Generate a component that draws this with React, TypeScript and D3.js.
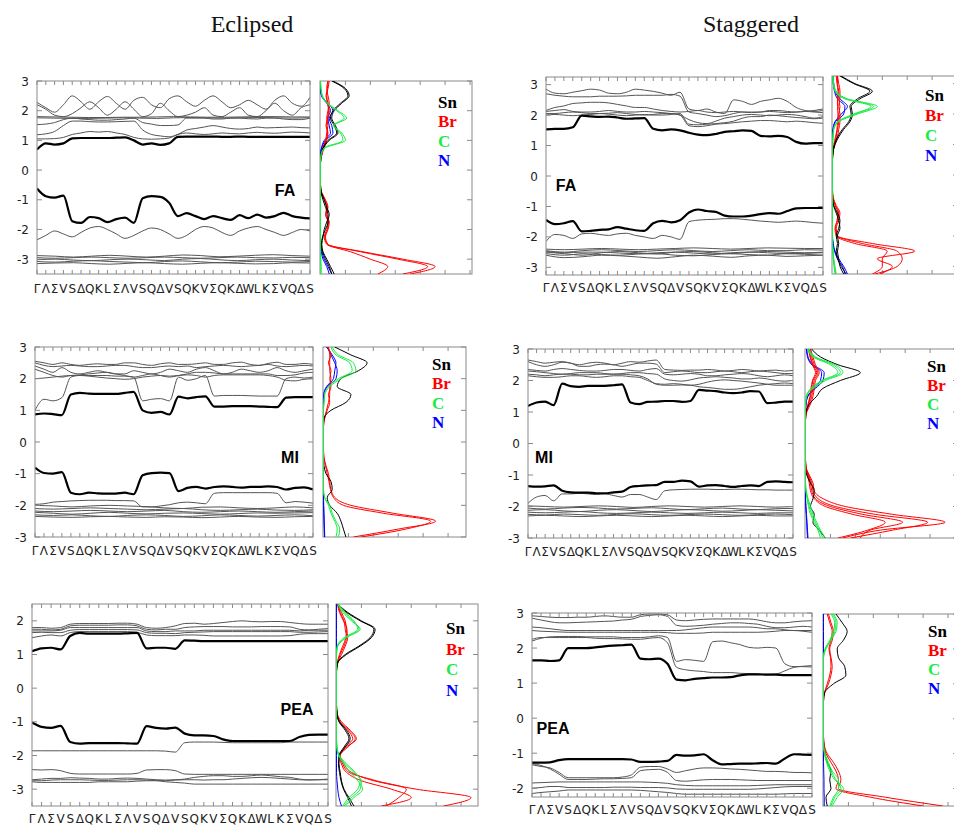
import React from "react";
import * as d3 from "d3";

// ---------------- k-path labels ----------------
const kLabels = ["Γ","Λ","Σ","V","S","Δ","Q","K","L","Σ","Λ","V","S","Q","Δ","V","S","Q","K","V","Σ","Q","K","Δ","W","L","K","Σ","V","Q","Δ","S"];
const titles = ["Eclipsed", "Staggered"];
const legendItems = ["Sn", "Br", "C", "N"];
const elementColors: Record<string, string> = { Sn: "#000000", Br: "#ff0000", C: "#19ec45", N: "#0000ff" };

// ---------------- Eclipsed FA ----------------
const eclFaThick: number[][] = [
  [0.69,0.9,0.86,0.9,1.07,1.08,1.08,1.08,1.08,1.09,1.1,1.0,0.86,0.9,0.85,0.9,1.12,1.13,1.13,1.13,1.13,1.12,1.12,1.13,1.12,1.12,1.12,1.12,1.12,1.12,1.12,1.12],
  [-0.62,-0.88,-0.93,-0.86,-1.72,-1.78,-1.58,-1.62,-1.75,-1.65,-1.6,-1.78,-0.95,-0.88,-0.9,-1.1,-1.55,-1.45,-1.55,-1.65,-1.55,-1.62,-1.68,-1.52,-1.62,-1.5,-1.6,-1.55,-1.44,-1.55,-1.6,-1.63],
];
const eclFaThin: number[][] = [
  [2.28,2.1,1.95,2.2,2.5,2.3,2.05,2.3,2.48,2.25,2.05,2.35,2.45,2.2,2.1,2.4,2.5,2.3,2.15,2.35,2.5,2.3,2.1,2.2,2.35,2.2,2.05,2.35,2.5,2.25,2.15,2.45],
  [2.2,2.05,1.85,1.8,1.9,2.1,2.3,2.1,1.85,2.05,2.3,2.05,1.8,1.9,2.25,2.0,1.8,1.85,1.95,2.1,1.85,1.8,1.95,2.1,1.85,1.8,2.0,2.25,2.0,1.85,2.1,2.2],
  [1.8,1.79,1.78,1.77,1.77,1.78,1.78,1.79,1.8,1.79,1.78,1.78,1.79,1.8,1.8,1.79,1.79],
  [1.76,1.75,1.74,1.74,1.75,1.76,1.75,1.74,1.76,1.77,1.76,1.75,1.76,1.77,1.76,1.75,1.76],
  [1.53,1.55,1.6,1.7,1.75,1.72,1.7,1.68,1.68,1.7,1.72,1.75,1.6,1.55,1.5,1.5,1.52,1.75,1.75,1.75,1.72,1.72,1.75,1.75,1.73,1.72,1.75,1.75,1.72,1.7,1.7,1.75],
  [1.19,1.22,1.3,1.5,1.65,1.65,1.63,1.62,1.62,1.63,1.64,1.65,1.35,1.2,1.15,1.12,1.2,1.35,1.4,1.45,1.5,1.45,1.4,1.38,1.4,1.45,1.42,1.43,1.44,1.45,1.43,1.42],
  [1.05,1.05,1.06,1.1,1.2,1.25,1.3,1.28,1.3,1.25,1.2,1.1,1.05,1.04,1.05,1.08,1.2,1.25,1.22,1.2,1.22,1.25,1.23,1.22,1.25,1.27,1.25,1.24,1.26,1.28,1.27,1.25],
  [-2.35,-2.2,-2.05,-2.15,-2.25,-2.1,-1.95,-1.9,-2.0,-2.15,-2.3,-2.2,-2.05,-1.95,-2.0,-2.15,-2.3,-2.2,-2.0,-1.9,-1.95,-2.1,-2.2,-2.05,-1.95,-1.9,-2.0,-2.1,-2.2,-2.1,-2.0,-2.05],
  [-2.88,-2.9,-2.93,-2.9,-2.87,-2.9,-2.93,-2.9,-2.86,-2.88,-2.92,-2.9,-2.87,-2.85,-2.88,-2.9],
  [-2.95,-2.97,-2.95,-2.93,-2.95,-2.97,-2.95,-2.93,-2.95,-2.97,-2.95,-2.93,-2.95,-2.96,-2.94,-2.95],
  [-3.02,-3.0,-3.03,-3.05,-3.02,-3.0,-3.02,-3.05,-3.0,-2.98,-3.02,-3.05,-3.02,-3.0,-3.03,-3.05],
  [-3.08,-3.1,-3.07,-3.05,-3.08,-3.1,-3.12,-3.08,-3.06,-3.09,-3.12,-3.1,-3.07,-3.08,-3.1,-3.08],
  [-3.15,-3.13,-3.12,-3.15,-3.17,-3.14,-3.12,-3.15,-3.17,-3.14,-3.12,-3.14,-3.16,-3.15,-3.12,-3.13],
];
const eclFaDosGrid = [-3.5, 0.25];
const eclFaDosSn: number[][] = [
  [0.55,0.4,0.25,0.1,0.05,0.1,0.15,0.25,0.35,0.25,0.15,0.03,0,0,0,0,0.02,0.12,0.35,0.7,0.6,0.45,0.55,0.85,1.15,1.0,0.5],
  [0.45,0.35,0.2,0.08,0.04,0.08,0.2,0.3,0.3,0.2,0.1,0.02,0,0,0,0,0.02,0.1,0.3,0.65,0.55,0.4,0.5,0.8,1.1,0.95,0.45],
];
const eclFaDosBr: number[][] = [
  [3.6,4.6,3.3,1.7,0.3,0.2,0.3,0.35,0.25,0.3,0.2,0.05,0,0,0,0,0.05,0.15,0.25,0.3,0.25,0.3,0.35,0.3,0.25,0.3,0.35],
  [3.3,4.3,3.1,1.6,0.28,0.18,0.28,0.32,0.22,0.28,0.18,0.04,0,0,0,0,0.04,0.12,0.22,0.28,0.22,0.28,0.32,0.28,0.22,0.28,0.3],
  [2.3,2.7,2.0,1.2,0.25,0.15,0.25,0.3,0.2,0.25,0.15,0.03,0,0,0,0,0.05,0.1,0.2,0.25,0.3,0.25,0.3,0.35,0.3,0.25,0.3],
];
const eclFaDosC: number[][] = [
  [0.02,0.02,0.01,0,0,0,0,0,0,0,0,0,0,0,0,0,0.02,0.2,1.0,0.85,0.55,1.05,0.7,0.3,0.08,0.02,0],
  [0.02,0.02,0.01,0,0,0,0,0,0,0,0,0,0,0,0,0,0.02,0.15,0.9,0.8,0.5,0.95,0.65,0.25,0.06,0.02,0],
];
const eclFaDosN: number[][] = [
  [0.45,0.3,0.15,0.05,0,0,0,0,0,0,0,0,0,0,0,0,0,0.05,0.2,0.5,0.45,0.35,0.5,0.3,0.05,0,0],
  [0.35,0.25,0.1,0.03,0,0,0,0,0,0,0,0,0,0,0,0,0,0.04,0.15,0.4,0.35,0.3,0.4,0.25,0.04,0,0],
];

// ---------------- Staggered FA ----------------
const stgFaThick: number[][] = [
  [1.53,1.55,1.55,1.6,1.98,1.96,1.94,1.95,1.92,1.88,1.89,1.9,1.55,1.5,1.53,1.5,1.42,1.36,1.34,1.38,1.45,1.47,1.5,1.48,1.32,1.3,1.32,1.28,1.12,1.06,1.08,1.08],
  [-1.44,-1.58,-1.55,-1.48,-1.82,-1.8,-1.77,-1.75,-1.68,-1.73,-1.78,-1.8,-1.55,-1.47,-1.52,-1.45,-1.2,-1.1,-1.15,-1.18,-1.3,-1.33,-1.33,-1.3,-1.25,-1.22,-1.24,-1.15,-1.06,-1.05,-1.05,-1.05],
];
const stgFaThin: number[][] = [
  [2.85,2.72,2.7,2.75,2.8,2.85,2.82,2.72,2.7,2.75,2.85,2.82,2.78,2.72,2.65,2.75,2.2,2.15,2.2,2.1,2.05,2.5,2.45,2.35,2.45,2.5,2.55,2.45,2.25,2.15,2.12,2.15],
  [2.7,2.65,2.62,2.6,2.6,2.6,2.62,2.62,2.62,2.63,2.65,2.65,2.65,2.65,2.68,2.62,2.1,2.05,2.0,1.95,1.98,2.05,2.1,2.1,2.1,2.15,2.15,2.12,2.1,2.12,2.15,2.2],
  [2.15,2.25,2.3,2.38,2.4,2.42,2.42,2.4,2.35,2.3,2.25,2.25,2.2,2.15,2.12,2.1,2.12,2.15,2.1,2.08,2.1,2.12,2.1,2.08,2.1,2.12,2.1,2.08,2.1,2.12,2.1,2.08],
  [2.12,2.15,2.18,2.12,2.1,2.1,2.12,2.15,2.12,2.1,2.1,2.12,2.1,2.08,2.05,2.0,1.85,1.75,1.72,1.8,1.9,1.95,2.0,2.02,2.0,1.98,2.0,2.02,2.0,1.95,1.9,1.95],
  [2.05,2.05,2.08,2.1,2.08,2.05,2.05,2.06,2.08,2.05,2.02,2.0,2.02,2.05,2.05,2.0,1.65,1.62,1.65,1.7,1.72,1.75,1.78,1.8,1.82,1.82,1.8,1.78,1.8,1.78,1.75,1.73],
  [2.0,2.02,2.0,1.98,2.0,2.02,2.05,2.03,2.0,1.98,2.0,2.02,2.0,2.0,2.02,2.05,1.7,1.68,1.7,1.72,1.75,1.8,1.9,1.95,1.95,2.0,1.98,1.95,1.92,1.9,1.88,1.9],
  [-2.15,-1.92,-1.95,-2.05,-1.9,-1.88,-1.92,-1.95,-1.9,-1.88,-1.95,-2.0,-2.05,-1.95,-2.0,-2.08,-1.5,-1.45,-1.43,-1.42,-1.4,-1.4,-1.42,-1.45,-1.48,-1.5,-1.52,-1.5,-1.48,-1.5,-1.53,-1.55],
  [-2.4,-2.42,-2.4,-2.38,-2.4,-2.42,-2.4,-2.38,-2.36,-2.38,-2.4,-2.38,-2.36,-2.37,-2.38,-2.38],
  [-2.45,-2.5,-2.45,-2.42,-2.45,-2.48,-2.45,-2.42,-2.45,-2.48,-2.45,-2.42,-2.45,-2.45,-2.42,-2.43],
  [-2.5,-2.55,-2.6,-2.52,-2.48,-2.52,-2.56,-2.5,-2.48,-2.52,-2.55,-2.5,-2.48,-2.5,-2.52,-2.5],
  [-2.55,-2.6,-2.55,-2.58,-2.6,-2.56,-2.55,-2.6,-2.62,-2.58,-2.55,-2.58,-2.6,-2.55,-2.57,-2.6],
  [-2.6,-2.68,-2.65,-2.6,-2.62,-2.66,-2.7,-2.65,-2.6,-2.63,-2.67,-2.62,-2.6,-2.64,-2.62,-2.6],
  [-2.48,-2.52,-2.5,-2.5,-2.53,-2.55,-2.52,-2.5,-2.53,-2.56,-2.52,-2.5,-2.52,-2.55,-2.54,-2.52],
];
const stgFaDosGrid = [-3.25, 0.25];
const stgFaDosSn: number[][] = [
  [0.55,0.35,0.2,0.15,0.2,0.15,0.25,0.3,0.2,0.05,0,0,0,0,0,0,0.02,0.1,0.25,0.45,0.7,0.8,0.75,1.1,1.6,0.9,0.35],
  [0.45,0.3,0.25,0.2,0.25,0.2,0.3,0.25,0.15,0.04,0,0,0,0,0,0,0.02,0.08,0.2,0.4,0.65,0.75,0.7,1.0,1.5,0.85,0.3],
];
const stgFaDosBr: number[][] = [
  [1.9,2.4,1.8,3.3,1.6,0.2,0.15,0.25,0.3,0.15,0.03,0,0,0,0,0,0.02,0.1,0.2,0.25,0.3,0.3,0.25,0.3,0.3,0.25,0.2],
  [1.7,2.6,2.8,2.6,1.2,0.2,0.12,0.2,0.25,0.12,0.02,0,0,0,0,0,0.02,0.08,0.15,0.2,0.25,0.25,0.3,0.25,0.25,0.2,0.2],
  [1.6,2.0,2.0,2.2,0.9,0.15,0.1,0.18,0.22,0.1,0.02,0,0,0,0,0,0.02,0.05,0.12,0.18,0.2,0.22,0.2,0.2,0.22,0.18,0.15],
];
const stgFaDosC: number[][] = [
  [0.15,0.1,0.05,0.02,0,0,0,0,0,0,0,0,0,0,0,0,0,0,0.02,0.05,0.25,1.0,1.8,0.6,0.15,0.05,0.02],
  [0.12,0.08,0.04,0.02,0,0,0,0,0,0,0,0,0,0,0,0,0,0,0.02,0.05,0.22,0.9,1.65,0.55,0.12,0.04,0.02],
  [0.1,0.06,0.03,0.01,0,0,0,0,0,0,0,0,0,0,0,0,0,0,0.02,0.04,0.2,0.85,1.55,0.5,0.1,0.03,0.01],
];
const stgFaDosN: number[][] = [
  [0.6,0.45,0.25,0.1,0.03,0,0,0,0,0,0,0,0,0,0,0,0,0,0,0.02,0.1,0.35,0.6,0.3,0.1,0.05,0.02],
  [0.5,0.4,0.2,0.08,0.02,0,0,0,0,0,0,0,0,0,0,0,0,0,0,0.02,0.12,0.45,0.5,0.2,0.08,0.03,0.01],
];

// ---------------- Eclipsed MI ----------------
const eclMiThick: number[][] = [
  [0.87,0.9,0.88,0.85,1.5,1.55,1.53,1.52,1.52,1.52,1.55,1.58,1.0,0.92,0.95,0.87,1.43,1.38,1.42,1.44,1.12,1.12,1.13,1.13,1.13,1.12,1.11,1.1,1.4,1.42,1.42,1.42],
  [-0.81,-0.98,-1.0,-0.95,-1.6,-1.65,-1.6,-1.62,-1.63,-1.63,-1.6,-1.65,-1.05,-0.98,-0.97,-0.98,-1.55,-1.45,-1.42,-1.47,-1.42,-1.4,-1.42,-1.44,-1.42,-1.42,-1.4,-1.42,-1.5,-1.45,-1.43,-1.5],
];
const eclMiThin: number[][] = [
  [2.55,2.5,2.45,2.5,2.45,2.42,2.45,2.47,2.45,2.45,2.5,2.5,2.45,2.42,2.47,2.5,2.45,2.45,2.47,2.5,2.45,2.45,2.5,2.52,2.45,2.42,2.48,2.52,2.45,2.45,2.48,2.45],
  [2.5,2.42,2.38,2.4,2.42,2.4,2.38,2.38,2.4,2.42,2.42,2.38,2.35,2.35,2.38,2.4,2.38,2.4,2.35,2.38,2.4,2.42,2.4,2.38,2.4,2.42,2.45,2.4,2.38,2.4,2.42,2.4],
  [2.4,2.3,2.2,2.35,2.2,2.15,2.2,2.25,2.2,2.15,2.15,2.25,2.2,2.15,2.2,2.3,2.25,2.2,2.3,2.35,2.25,2.15,2.2,2.3,2.25,2.2,2.25,2.35,2.25,2.2,2.25,2.3],
  [2.3,2.2,2.1,2.05,2.1,2.12,2.15,2.18,2.2,2.15,2.1,2.05,2.1,2.15,2.1,2.05,2.1,2.15,2.2,2.2,2.18,2.15,2.15,2.15,2.15,2.15,2.15,2.1,2.1,2.12,2.18,2.2],
  [2.0,2.02,2.05,2.08,2.1,2.1,2.08,2.05,2.02,2.0,1.98,2.0,2.05,2.08,2.1,2.08,2.1,2.12,2.1,2.05,2.1,2.12,2.12,2.12,2.12,2.12,2.1,2.05,1.95,1.93,1.98,2.0],
  [1.0,1.35,1.3,1.4,2.05,2.1,2.1,2.1,2.1,2.08,2.08,2.05,1.3,1.35,1.37,1.3,2.05,1.95,2.0,2.1,1.45,1.47,1.47,1.47,1.46,1.45,1.45,1.45,2.0,2.05,2.02,2.05],
  [-1.97,-1.95,-1.9,-1.88,-1.86,-1.85,-1.84,-1.84,-1.84,-1.85,-1.85,-1.86,-2.05,-2.05,-2.02,-1.98,-1.92,-1.9,-1.92,-1.95,-1.62,-1.6,-1.6,-1.6,-1.6,-1.6,-1.6,-1.62,-1.92,-1.88,-1.9,-1.93],
  [-2.0,-2.02,-2.05,-2.02,-2.0,-2.02,-2.04,-2.08,-2.1,-2.06,-2.05,-2.08,-2.1,-2.08,-2.05,-2.08],
  [-2.1,-2.12,-2.1,-2.08,-2.1,-2.12,-2.14,-2.12,-2.1,-2.14,-2.16,-2.14,-2.12,-2.15,-2.16,-2.14],
  [-2.18,-2.2,-2.18,-2.16,-2.18,-2.2,-2.18,-2.16,-2.2,-2.22,-2.2,-2.18,-2.2,-2.22,-2.2,-2.18],
  [-2.22,-2.25,-2.28,-2.25,-2.22,-2.25,-2.27,-2.25,-2.24,-2.26,-2.28,-2.26,-2.24,-2.25,-2.24,-2.23],
  [-2.3,-2.32,-2.3,-2.33,-2.35,-2.32,-2.3,-2.32,-2.35,-2.33,-2.3,-2.32,-2.34,-2.32,-2.3,-2.33],
  [-2.35,-2.37,-2.38,-2.36,-2.35,-2.37,-2.38,-2.36,-2.37,-2.39,-2.37,-2.35,-2.37,-2.38,-2.36,-2.35],
];
const eclMiDosGrid = [-3, 0.25];
const eclMiDosSn: number[][] = [
  [0.9,0.8,0.7,0.55,0.25,0.15,0.35,0.3,0.1,0.02,0,0,0,0,0,0.02,0.3,0.9,1.1,0.55,0.7,1.4,1.75,1.1,0.45],
];
const eclMiDosBr: number[][] = [
  [1.2,3.0,4.5,2.8,1.1,0.45,0.3,0.25,0.2,0.1,0.02,0,0,0,0,0.05,0.15,0.25,0.2,0.3,0.25,0.3,0.2,0.3,0.15],
  [1.5,3.3,4.3,2.4,0.8,0.4,0.28,0.22,0.15,0.08,0.02,0,0,0,0,0.04,0.12,0.2,0.25,0.25,0.3,0.25,0.25,0.25,0.2],
];
const eclMiDosC: number[][] = [
  [0.6,0.65,0.5,0.35,0.25,0.05,0,0,0,0,0,0,0,0,0,0,0,0.02,0.05,0.25,0.7,1.3,1.2,0.6,0.35],
  [0.5,0.55,0.45,0.3,0.2,0.04,0,0,0,0,0,0,0,0,0,0,0,0.02,0.04,0.2,0.6,1.15,1.05,0.5,0.3],
];
const eclMiDosN: number[][] = [
  [0.05,0.04,0.03,0.02,0.01,0,0,0,0,0,0,0,0,0,0,0,0,0,0.02,0.15,0.5,0.55,0.45,0.3,0.15],
  [0.04,0.03,0.02,0.01,0,0,0,0,0,0,0,0,0,0,0,0,0,0,0.01,0.12,0.4,0.45,0.5,0.35,0.12],
];

// ---------------- Staggered MI ----------------
const stgMiThick: number[][] = [
  [1.19,1.3,1.33,1.22,1.9,1.82,1.8,1.83,1.83,1.83,1.85,1.88,1.3,1.25,1.32,1.33,1.35,1.35,1.32,1.35,1.7,1.68,1.66,1.62,1.6,1.62,1.66,1.65,1.28,1.3,1.33,1.33],
  [-1.35,-1.37,-1.36,-1.33,-1.5,-1.55,-1.56,-1.56,-1.58,-1.58,-1.55,-1.53,-1.38,-1.35,-1.33,-1.32,-1.22,-1.22,-1.18,-1.2,-1.37,-1.33,-1.32,-1.35,-1.38,-1.35,-1.33,-1.35,-1.22,-1.2,-1.22,-1.23],
];
const stgMiThin: number[][] = [
  [2.65,2.6,2.55,2.58,2.6,2.55,2.5,2.55,2.58,2.55,2.5,2.55,2.6,2.58,2.62,2.65,2.35,2.33,2.32,2.33,2.33,2.35,2.33,2.3,2.32,2.35,2.33,2.3,2.32,2.33,2.3,2.32],
  [2.6,2.5,2.45,2.5,2.58,2.55,2.45,2.45,2.5,2.52,2.5,2.45,2.5,2.55,2.55,2.52,2.25,2.28,2.3,2.28,2.25,2.25,2.28,2.3,2.28,2.25,2.28,2.3,2.28,2.25,2.22,2.22],
  [2.35,2.32,2.3,2.35,2.38,2.35,2.32,2.3,2.3,2.32,2.35,2.35,2.32,2.3,2.35,2.38,2.2,2.18,2.2,2.22,2.2,2.15,2.15,2.18,2.2,2.22,2.2,2.15,2.12,2.15,2.18,2.15],
  [2.3,2.28,2.25,2.22,2.2,2.22,2.25,2.25,2.25,2.22,2.2,2.22,2.25,2.25,2.22,2.2,2.05,2.0,1.98,2.02,2.08,2.1,2.12,2.1,2.08,2.05,2.05,2.08,2.05,2.0,1.98,2.0],
  [2.2,2.18,2.15,2.18,2.2,2.2,2.18,2.18,2.2,2.2,2.2,2.2,2.18,2.15,2.05,1.88,1.85,1.85,1.86,1.85,1.8,1.78,1.75,1.72,1.72,1.75,1.8,1.85,1.88,1.9,1.92,1.9],
  [2.15,2.12,2.1,2.1,2.12,2.15,2.15,2.12,2.1,2.12,2.15,2.15,2.12,2.1,2.0,1.9,1.88,1.9,1.88,1.85,1.88,1.95,2.0,2.02,2.0,1.98,1.95,1.92,1.88,1.85,1.85,1.85],
  [-1.9,-1.7,-1.65,-1.82,-1.6,-1.6,-1.58,-1.6,-1.62,-1.6,-1.65,-1.7,-1.62,-1.62,-1.7,-1.78,-1.5,-1.47,-1.46,-1.45,-1.45,-1.45,-1.46,-1.46,-1.45,-1.45,-1.46,-1.47,-1.47,-1.48,-1.48,-1.48],
  [-1.98,-2.0,-2.02,-2.0,-1.98,-2.0,-2.03,-2.0,-1.98,-2.0,-2.02,-2.0,-1.98,-2.0,-2.02,-2.0],
  [-2.05,-2.08,-2.05,-2.03,-2.05,-2.08,-2.06,-2.04,-2.07,-2.1,-2.07,-2.05,-2.08,-2.1,-2.07,-2.06],
  [-2.12,-2.1,-2.14,-2.16,-2.12,-2.1,-2.13,-2.16,-2.13,-2.1,-2.12,-2.15,-2.13,-2.1,-2.12,-2.14],
  [-2.18,-2.2,-2.18,-2.16,-2.2,-2.22,-2.2,-2.18,-2.2,-2.22,-2.2,-2.18,-2.2,-2.22,-2.2,-2.2],
  [-2.25,-2.27,-2.24,-2.26,-2.28,-2.25,-2.23,-2.26,-2.28,-2.26,-2.24,-2.26,-2.28,-2.26,-2.24,-2.26],
  [-2.3,-2.28,-2.3,-2.32,-2.3,-2.28,-2.3,-2.32,-2.3,-2.28,-2.3,-2.32,-2.3,-2.28,-2.3,-2.3],
];
const stgMiDosGrid = [-3, 0.25];
const stgMiDosSn: number[][] = [
  [0.8,0.55,0.3,0.35,0.2,0.3,0.35,0.2,0.05,0,0,0,0,0,0,0,0.02,0.15,0.45,0.7,1.4,2.2,1.3,0.6,0.25],
];
const stgMiDosBr: number[][] = [
  [1.5,3.0,5.6,3.5,1.6,0.7,0.35,0.3,0.15,0.02,0,0,0,0,0,0,0.05,0.2,0.3,0.35,0.4,0.55,0.4,0.3,0.2],
  [1.8,3.5,4.9,2.8,1.2,0.5,0.3,0.25,0.12,0.02,0,0,0,0,0,0,0.04,0.15,0.25,0.3,0.35,0.5,0.35,0.25,0.2],
  [2.2,2.6,3.9,2.3,1.0,0.4,0.25,0.2,0.1,0.02,0,0,0,0,0,0,0.03,0.12,0.2,0.25,0.3,0.45,0.3,0.2,0.15],
  [1.3,2.5,3.2,1.9,0.8,0.35,0.2,0.15,0.08,0.01,0,0,0,0,0,0,0.03,0.1,0.18,0.22,0.28,0.4,0.28,0.18,0.12],
];
const stgMiDosC: number[][] = [
  [0.8,0.6,0.45,0.3,0.2,0.1,0.03,0,0,0,0,0,0,0,0,0,0,0,0.05,0.3,0.8,1.5,1.2,0.4,0.15],
  [0.7,0.55,0.4,0.25,0.15,0.08,0.02,0,0,0,0,0,0,0,0,0,0,0,0.04,0.25,0.7,1.4,1.1,0.35,0.12],
  [0.6,0.5,0.35,0.2,0.12,0.06,0.02,0,0,0,0,0,0,0,0,0,0,0,0.03,0.22,0.65,1.3,1.0,0.3,0.1],
];
const stgMiDosN: number[][] = [
  [0.1,0.08,0.06,0.04,0.02,0,0,0,0,0,0,0,0,0,0,0,0,0.02,0.1,0.4,0.7,0.75,0.3,0.1,0.05],
  [0.08,0.06,0.05,0.03,0.01,0,0,0,0,0,0,0,0,0,0,0,0,0.02,0.08,0.35,0.6,0.65,0.25,0.08,0.04],
];

// ---------------- Eclipsed PEA ----------------
const eclPeaThick: number[][] = [
  [1.1,1.18,1.2,1.15,1.55,1.64,1.62,1.62,1.62,1.62,1.63,1.64,1.18,1.2,1.2,1.17,1.42,1.41,1.4,1.4,1.4,1.4,1.4,1.4,1.4,1.4,1.4,1.4,1.4,1.4,1.4,1.4],
  [-1.02,-1.15,-1.18,-1.12,-1.6,-1.65,-1.63,-1.63,-1.63,-1.63,-1.64,-1.65,-1.13,-1.18,-1.2,-1.17,-1.35,-1.4,-1.4,-1.42,-1.52,-1.57,-1.57,-1.57,-1.57,-1.57,-1.57,-1.57,-1.45,-1.39,-1.38,-1.38],
];
const eclPeaThin: number[][] = [
  [1.8,1.8,1.78,1.8,1.9,1.92,1.92,1.92,1.92,1.93,1.93,1.9,1.8,1.78,1.8,1.85,1.92,1.93,1.9,1.92,1.95,1.98,2.0,1.98,1.97,1.98,1.98,1.95,1.92,1.9,1.9,1.9],
  [1.75,1.75,1.73,1.75,1.85,1.87,1.87,1.87,1.87,1.88,1.88,1.85,1.75,1.73,1.75,1.75,1.8,1.82,1.83,1.83,1.83,1.82,1.82,1.82,1.83,1.83,1.83,1.82,1.75,1.73,1.75,1.77],
  [1.7,1.7,1.7,1.72,1.8,1.8,1.8,1.8,1.8,1.8,1.8,1.8,1.7,1.68,1.68,1.7,1.7,1.7,1.72,1.72,1.72,1.72,1.72,1.72,1.72,1.72,1.72,1.72,1.7,1.72,1.72,1.72],
  [1.65,1.66,1.65,1.65,1.72,1.74,1.74,1.74,1.74,1.74,1.74,1.73,1.65,1.63,1.63,1.62,1.65,1.66,1.67,1.68,1.68,1.68,1.68,1.68,1.68,1.68,1.68,1.68,1.66,1.66,1.67,1.68],
  [1.5,1.55,1.58,1.55,1.65,1.68,1.68,1.68,1.68,1.68,1.68,1.66,1.58,1.56,1.56,1.56,1.58,1.58,1.57,1.55,1.55,1.55,1.55,1.55,1.55,1.55,1.55,1.56,1.6,1.62,1.62,1.62],
  [-1.86,-1.86,-1.86,-1.86,-1.86,-1.86,-1.86,-1.86,-1.86,-1.86,-1.86,-1.86,-1.86,-1.86,-1.87,-1.9,-1.62,-1.6,-1.6,-1.6,-1.61,-1.62,-1.62,-1.62,-1.62,-1.62,-1.62,-1.6,-1.6,-1.6,-1.6,-1.6],
  [-2.42,-2.43,-2.42,-2.45,-2.53,-2.55,-2.55,-2.55,-2.55,-2.55,-2.55,-2.53,-2.43,-2.42,-2.42,-2.45,-2.55,-2.56,-2.56,-2.56,-2.56,-2.56,-2.56,-2.56,-2.56,-2.56,-2.56,-2.56,-2.56,-2.56,-2.56,-2.56],
  [-2.72,-2.7,-2.68,-2.68,-2.66,-2.67,-2.68,-2.7,-2.7,-2.68,-2.67,-2.68,-2.7,-2.72,-2.73,-2.72,-2.7,-2.65,-2.62,-2.6,-2.6,-2.62,-2.62,-2.6,-2.58,-2.6,-2.63,-2.65,-2.7,-2.72,-2.72,-2.72],
  [-2.75,-2.75,-2.73,-2.72,-2.72,-2.72,-2.73,-2.74,-2.74,-2.73,-2.72,-2.72,-2.73,-2.74,-2.75,-2.73,-2.72,-2.72,-2.73,-2.72,-2.72,-2.7,-2.68,-2.66,-2.65,-2.66,-2.68,-2.7,-2.72,-2.73,-2.72,-2.7],
  [-2.78,-2.8,-2.8,-2.8,-2.8,-2.8,-2.8,-2.78,-2.78,-2.78,-2.78,-2.76,-2.75,-2.75,-2.78,-2.8,-2.82,-2.85,-2.85,-2.85,-2.85,-2.85,-2.85,-2.85,-2.85,-2.85,-2.85,-2.85,-2.85,-2.85,-2.85,-2.85],
];
const eclPeaDosGrid = [-3.5, 0.25];
const eclPeaDosSn: number[][] = [
  [0.7,0.5,0.3,0.2,0.15,0.1,0.12,0.35,0.55,0.4,0.12,0.02,0,0,0,0,0,0.05,0.4,0.95,1.4,1.55,1.0,0.45,0.05],
  [0.6,0.45,0.28,0.18,0.12,0.08,0.1,0.3,0.5,0.35,0.1,0.02,0,0,0,0,0,0.04,0.35,0.9,1.35,1.5,0.95,0.4,0.05],
];
const eclPeaDosBr: number[][] = [
  [4.3,5.4,3.2,1.5,0.6,0.3,0.15,0.45,0.75,0.5,0.15,0.02,0,0,0,0,0,0.05,0.2,0.35,0.45,0.4,0.35,0.2,0.05],
  [2.0,2.5,2.8,1.6,0.5,0.25,0.15,0.4,0.8,0.55,0.2,0.03,0,0,0,0,0,0.04,0.15,0.3,0.4,0.35,0.3,0.15,0.05],
  [1.8,3.0,2.2,1.0,0.4,0.2,0.12,0.35,0.65,0.45,0.12,0.02,0,0,0,0,0,0.03,0.12,0.25,0.38,0.42,0.28,0.12,0.04],
];
const eclPeaDosC: number[][] = [
  [0.3,0.6,0.95,1.0,0.7,0.35,0.1,0.02,0,0,0,0,0,0,0,0,0,0,0,0.05,0.4,0.95,0.6,0.25,0.05],
  [0.25,0.5,0.85,0.95,0.75,0.4,0.12,0.02,0,0,0,0,0,0,0,0,0,0,0,0.04,0.35,0.9,0.65,0.3,0.06],
  [0.35,0.7,1.05,0.85,0.55,0.3,0.08,0.01,0,0,0,0,0,0,0,0,0,0,0,0.03,0.3,0.85,0.7,0.35,0.08],
];
const eclPeaDosN: number[][] = [
  [0.2,0.1,0.05,0.02,0,0,0,0,0,0,0,0,0,0,0,0,0,0,0,0,0,0,0,0,0],
];

// ---------------- Staggered PEA ----------------
const stgPeaThick: number[][] = [
  [1.65,1.65,1.63,1.65,2.0,2.0,2.0,2.02,2.05,2.07,2.08,2.1,1.7,1.68,1.7,1.55,1.1,1.08,1.12,1.14,1.16,1.16,1.17,1.22,1.25,1.25,1.24,1.24,1.23,1.23,1.23,1.23],
  [-1.27,-1.27,-1.26,-1.2,-1.17,-1.17,-1.17,-1.17,-1.17,-1.17,-1.17,-1.18,-1.25,-1.25,-1.24,-1.22,-1.05,-1.07,-1.06,-1.03,-1.2,-1.32,-1.31,-1.3,-1.3,-1.29,-1.28,-1.3,-1.15,-1.03,-1.04,-1.05],
];
const stgPeaThin: number[][] = [
  [2.92,2.9,2.88,2.87,2.87,2.88,2.88,2.9,2.92,2.9,2.88,2.88,2.95,2.97,2.97,2.95,2.8,2.78,2.8,2.82,2.83,2.83,2.83,2.83,2.83,2.8,2.75,2.72,2.72,2.75,2.77,2.78],
  [2.85,2.8,2.75,2.72,2.72,2.73,2.74,2.75,2.76,2.77,2.8,2.82,2.9,2.93,2.95,2.9,2.65,2.62,2.63,2.65,2.68,2.7,2.72,2.72,2.7,2.68,2.62,2.58,2.58,2.6,2.62,2.6],
  [2.6,2.58,2.55,2.52,2.5,2.5,2.5,2.5,2.5,2.5,2.5,2.5,2.5,2.5,2.5,2.5,2.5,2.52,2.55,2.58,2.6,2.6,2.6,2.6,2.6,2.58,2.55,2.55,2.52,2.5,2.5,2.5],
  [2.5,2.48,2.47,2.46,2.45,2.45,2.45,2.45,2.45,2.45,2.45,2.45,2.45,2.45,2.45,2.44,2.42,2.42,2.42,2.43,2.45,2.45,2.45,2.45,2.45,2.45,2.46,2.48,2.5,2.5,2.48,2.45],
  [2.2,2.28,2.32,2.33,2.33,2.33,2.32,2.32,2.32,2.32,2.3,2.3,2.3,2.32,2.35,2.3,1.62,1.67,1.65,1.62,2.18,2.2,2.15,2.1,2.02,2.0,2.02,2.0,1.55,1.47,1.47,1.46],
  [2.25,2.3,2.3,2.3,2.3,2.3,2.3,2.28,2.27,2.27,2.26,2.25,2.25,2.28,2.3,2.15,1.45,1.38,1.35,1.33,1.3,1.3,1.3,1.28,1.27,1.26,1.25,1.26,1.35,1.45,1.48,1.5],
  [-1.3,-1.35,-1.45,-1.6,-1.75,-1.75,-1.75,-1.74,-1.73,-1.73,-1.72,-1.7,-1.5,-1.47,-1.46,-1.55,-1.78,-1.8,-1.78,-1.76,-1.75,-1.75,-1.75,-1.76,-1.77,-1.78,-1.78,-1.78,-1.78,-1.78,-1.78,-1.78],
  [-1.33,-1.38,-1.42,-1.55,-1.7,-1.7,-1.7,-1.7,-1.7,-1.7,-1.68,-1.62,-1.4,-1.38,-1.38,-1.45,-1.55,-1.5,-1.45,-1.42,-1.42,-1.43,-1.45,-1.46,-1.48,-1.5,-1.52,-1.52,-1.53,-1.55,-1.55,-1.56],
  [-1.85,-1.84,-1.83,-1.82,-1.82,-1.82,-1.82,-1.82,-1.82,-1.82,-1.82,-1.82,-1.82,-1.83,-1.84,-1.86,-1.9,-1.92,-1.93,-1.93,-1.93,-1.93,-1.93,-1.93,-1.93,-1.92,-1.91,-1.9,-1.9,-1.9,-1.9,-1.9],
  [-2.0,-1.98,-1.95,-1.95,-1.98,-1.98,-1.98,-1.98,-1.98,-1.97,-1.97,-1.97,-1.98,-1.98,-1.98,-1.99,-2.02,-2.03,-2.03,-2.03,-2.03,-2.03,-2.03,-2.03,-2.03,-2.02,-2.0,-1.98,-1.96,-1.95,-1.95,-1.95],
  [-2.15,-2.12,-2.1,-2.08,-2.05,-2.05,-2.05,-2.05,-2.05,-2.05,-2.05,-2.05,-2.06,-2.08,-2.1,-2.12,-2.15,-2.17,-2.17,-2.17,-2.17,-2.17,-2.17,-2.17,-2.17,-2.17,-2.17,-2.17,-2.16,-2.15,-2.15,-2.15],
];
const stgPeaDosGrid = [-2.5, 0.25];
const stgPeaDosSn: number[][] = [
  [0.15,0.1,0.3,0.25,0.3,0.15,0.05,0.01,0,0,0,0,0,0.05,0.4,0.9,0.85,0.6,0.55,0.8,0.95,0.75,0.5],
];
const stgPeaDosBr: number[][] = [
  [4.8,2.5,0.6,0.7,0.6,0.4,0.15,0.03,0,0,0,0,0,0.05,0.2,0.3,0.35,0.3,0.25,0.35,0.4,0.3,0.2],
  [4.0,1.9,0.5,0.6,0.5,0.3,0.1,0.02,0,0,0,0,0,0.04,0.15,0.25,0.3,0.28,0.22,0.3,0.35,0.25,0.15],
];
const stgPeaDosC: number[][] = [
  [0.3,0.45,0.7,0.5,0.3,0.15,0.05,0,0,0,0,0,0,0,0,0,0,0,0.1,0.3,0.45,0.5,0.35],
  [0.35,0.55,0.8,0.45,0.25,0.12,0.04,0,0,0,0,0,0,0,0,0,0,0,0.08,0.28,0.5,0.55,0.4],
  [0.25,0.4,0.6,0.6,0.35,0.2,0.06,0,0,0,0,0,0,0,0,0,0,0,0.06,0.25,0.4,0.45,0.3],
];
const stgPeaDosN: number[][] = [
  [0.03,0.03,0.02,0.02,0.01,0,0,0,0,0,0,0,0,0,0,0,0,0,0,0,0,0,0],
];

// ---------------- layout ----------------
type Box = { x0: number; x1: number; y0: number; y1: number; dom: [number, number] };
type Panel = {
  name: string; nameX: number; nameY: number;
  band: Box; labelY: number; yTicks: number[];
  dos: Box; legendX: number; legendY: number; legendDy: number;
  thick: number[][]; thin: number[][];
  grid: number[]; dosSets: { el: string; curves: number[][] }[];
};

const panels: Panel[] = [
  {
    name: "FA", nameX: 285, nameY: 196,
    band: { x0: 37, x1: 310, y0: 81, y1: 274, dom: [-3.5, 3] }, labelY: 293, yTicks: [-3, -2, -1, 0, 1, 2, 3],
    dos: { x0: 320, x1: 472, y0: 81, y1: 274, dom: [-3.5, 3] }, legendX: 438, legendY: 108, legendDy: 19.3,
    thick: eclFaThick, thin: eclFaThin, grid: eclFaDosGrid,
    dosSets: [{ el: "N", curves: eclFaDosN }, { el: "Br", curves: eclFaDosBr }, { el: "Sn", curves: eclFaDosSn }, { el: "C", curves: eclFaDosC }],
  },
  {
    name: "FA", nameX: 566, nameY: 191,
    band: { x0: 546, x1: 823, y0: 77, y1: 275, dom: [-3.25, 3.25] }, labelY: 292, yTicks: [-3, -2, -1, 0, 1, 2, 3],
    dos: { x0: 832, x1: 958, y0: 76, y1: 274, dom: [-3.25, 3.25] }, legendX: 925, legendY: 101, legendDy: 20,
    thick: stgFaThick, thin: stgFaThin, grid: stgFaDosGrid,
    dosSets: [{ el: "N", curves: stgFaDosN }, { el: "Br", curves: stgFaDosBr }, { el: "Sn", curves: stgFaDosSn }, { el: "C", curves: stgFaDosC }],
  },
  {
    name: "MI", nameX: 290, nameY: 463,
    band: { x0: 35, x1: 313, y0: 347, y1: 537, dom: [-3, 3] }, labelY: 555, yTicks: [-3, -2, -1, 0, 1, 2, 3],
    dos: { x0: 323, x1: 466, y0: 347, y1: 537, dom: [-3, 3] }, legendX: 432, legendY: 370, legendDy: 19.3,
    thick: eclMiThick, thin: eclMiThin, grid: eclMiDosGrid,
    dosSets: [{ el: "N", curves: eclMiDosN }, { el: "Br", curves: eclMiDosBr }, { el: "Sn", curves: eclMiDosSn }, { el: "C", curves: eclMiDosC }],
  },
  {
    name: "MI", nameX: 544, nameY: 463,
    band: { x0: 528, x1: 793, y0: 349, y1: 538, dom: [-3, 3] }, labelY: 556, yTicks: [-3, -2, -1, 0, 1, 2, 3],
    dos: { x0: 805, x1: 958, y0: 349, y1: 538, dom: [-3, 3] }, legendX: 927, legendY: 372, legendDy: 19,
    thick: stgMiThick, thin: stgMiThin, grid: stgMiDosGrid,
    dosSets: [{ el: "N", curves: stgMiDosN }, { el: "Br", curves: stgMiDosBr }, { el: "Sn", curves: stgMiDosSn }, { el: "C", curves: stgMiDosC }],
  },
  {
    name: "PEA", nameX: 297, nameY: 715,
    band: { x0: 32, x1: 328, y0: 604, y1: 806, dom: [-3.5, 2.5] }, labelY: 823, yTicks: [-3, -2, -1, 0, 1, 2],
    dos: { x0: 336, x1: 478, y0: 604, y1: 806, dom: [-3.5, 2.5] }, legendX: 446, legendY: 634, legendDy: 20.7,
    thick: eclPeaThick, thin: eclPeaThin, grid: eclPeaDosGrid,
    dosSets: [{ el: "N", curves: eclPeaDosN }, { el: "Br", curves: eclPeaDosBr }, { el: "Sn", curves: eclPeaDosSn }, { el: "C", curves: eclPeaDosC }],
  },
  {
    name: "PEA", nameX: 553, nameY: 734,
    band: { x0: 532, x1: 812, y0: 613, y1: 797, dom: [-2.25, 3] }, labelY: 814, yTicks: [-2, -1, 0, 1, 2, 3],
    dos: { x0: 823, x1: 958, y0: 614, y1: 806, dom: [-2.5, 3] }, legendX: 928, legendY: 637, legendDy: 19,
    thick: stgPeaThick, thin: stgPeaThin, grid: stgPeaDosGrid,
    dosSets: [{ el: "N", curves: stgPeaDosN }, { el: "Br", curves: stgPeaDosBr }, { el: "Sn", curves: stgPeaDosSn }, { el: "C", curves: stgPeaDosC }],
  },
];

const frameColor = "#8a8a8a";
const sans = "DejaVu Sans, Verdana, sans-serif";

function PanelView({ p, id }: { p: Panel; id: number }) {
  const b = p.band;
  const nK = kLabels.length;
  const x = d3.scaleLinear().domain([0, nK - 1]).range([b.x0, b.x1]);
  const y = d3.scaleLinear().domain(b.dom).range([b.y1, b.y0]);
  const bandPath = (arr: number[]) =>
    d3.line<number>()
      .x((_, j) => x((j * (nK - 1)) / (arr.length - 1)))
      .y((v) => y(v))
      .curve(d3.curveMonotoneX)(arr) || "";

  const d = p.dos;
  const dx = d3.scaleLinear().domain([0, (d.x1 - d.x0) / 25]).range([d.x0 + 0.5, d.x1]);
  const dy = d3.scaleLinear().domain(d.dom).range([d.y1, d.y0]);
  const dosPath = (vals: number[]) => {
    const pts = vals.map((v, k) => [v, p.grid[0] + p.grid[1] * k] as [number, number]).reverse();
    return d3.line<[number, number]>()
      .x((q) => dx(q[0]))
      .y((q) => dy(q[1]))
      .curve(d3.curveMonotoneY)(pts) || "";
  };
  const dosXTicks = d3.range(1, Math.floor((d.x1 - d.x0) / 25) + 1);
  const dosYTicks = p.yTicks.filter((t) => t >= d.dom[0] && t <= d.dom[1]);
  const tl = 4;

  return (
    <g>
      <defs>
        <clipPath id={`bc${id}`}><rect x={b.x0} y={b.y0} width={b.x1 - b.x0} height={b.y1 - b.y0} /></clipPath>
        <clipPath id={`dc${id}`}><rect x={d.x0} y={d.y0} width={d.x1 - d.x0} height={d.y1 - d.y0} /></clipPath>
      </defs>

      {/* band structure */}
      <g clipPath={`url(#bc${id})`}>
        {p.thin.map((arr, i) => (
          <path key={`t${i}`} d={bandPath(arr)} fill="none" stroke="#555" strokeWidth={1} />
        ))}
        {p.thick.map((arr, i) => (
          <path key={`k${i}`} d={bandPath(arr)} fill="none" stroke="#000" strokeWidth={2.2} />
        ))}
      </g>
      <rect x={b.x0} y={b.y0} width={b.x1 - b.x0} height={b.y1 - b.y0} fill="none" stroke={frameColor} strokeWidth={1} />
      {kLabels.map((lab, i) => (
        <g key={`kx${i}`}>
          <line x1={x(i)} x2={x(i)} y1={b.y0} y2={b.y0 + tl} stroke={frameColor} />
          <line x1={x(i)} x2={x(i)} y1={b.y1} y2={b.y1 - tl} stroke={frameColor} />
          <text x={x(i)} y={p.labelY} textAnchor="middle" fontFamily={sans} fontSize={12} fill="#222">{lab}</text>
        </g>
      ))}
      {p.yTicks.map((t) => (
        <g key={`yt${t}`}>
          <line x1={b.x0} x2={b.x0 + 5} y1={y(t)} y2={y(t)} stroke={frameColor} />
          <line x1={b.x1} x2={b.x1 - 5} y1={y(t)} y2={y(t)} stroke={frameColor} />
          <text x={b.x0 - 8} y={y(t) + 4.5} textAnchor="end" fontFamily={sans} fontSize={12} fill="#222">{t}</text>
        </g>
      ))}
      <text x={p.nameX} y={p.nameY} textAnchor="middle" fontFamily="Liberation Sans, Arial, sans-serif" fontWeight="bold" fontSize={16} fill="#000">{p.name}</text>

      {/* DOS */}
      <rect x={d.x0} y={d.y0} width={d.x1 - d.x0} height={d.y1 - d.y0} fill="none" stroke={frameColor} strokeWidth={1} />
      {dosXTicks.map((t) => (
        <g key={`dxt${t}`}>
          <line x1={dx(t)} x2={dx(t)} y1={d.y0} y2={d.y0 + tl} stroke={frameColor} />
          <line x1={dx(t)} x2={dx(t)} y1={d.y1} y2={d.y1 - tl} stroke={frameColor} />
        </g>
      ))}
      {dosYTicks.map((t) => (
        <line key={`dyt${t}`} x1={d.x1} x2={d.x1 - 5} y1={dy(t)} y2={dy(t)} stroke={frameColor} />
      ))}
      <g clipPath={`url(#dc${id})`}>
        {p.dosSets.map((s) =>
          s.curves.map((c, j) => (
            <path key={`${s.el}${j}`} d={dosPath(c)} fill="none" stroke={elementColors[s.el]} strokeWidth={1} />
          ))
        )}
      </g>
      {legendItems.map((el, i) => (
        <text key={el} x={p.legendX} y={p.legendY + i * p.legendDy} fontFamily="Liberation Serif, Times New Roman, serif" fontWeight="bold" fontSize={17} fill={elementColors[el]}>{el}</text>
      ))}
    </g>
  );
}

export default function App() {
  return (
    <svg width={954} height={827} style={{ position: "absolute", left: 0, top: 0, background: "#fff" }}>
      <rect x={0} y={0} width={954} height={827} fill="#fff" />
      <text x={252} y={32} textAnchor="middle" fontFamily="Liberation Serif, Times New Roman, serif" fontSize={24} fill="#111">{titles[0]}</text>
      <text x={751} y={32} textAnchor="middle" fontFamily="Liberation Serif, Times New Roman, serif" fontSize={24} fill="#111">{titles[1]}</text>
      {panels.map((p, i) => (
        <PanelView key={i} p={p} id={i} />
      ))}
    </svg>
  );
}
